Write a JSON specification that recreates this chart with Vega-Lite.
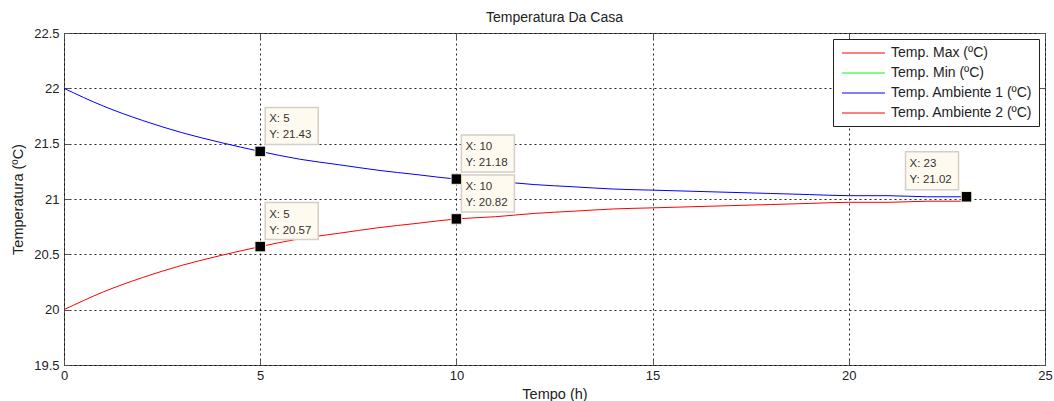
{
  "$schema": "https://vega.github.io/schema/vega-lite/v6.json",
  "autosize": "none",
  "width": 981,
  "height": 332,
  "padding": {"left": 64, "top": 33, "right": 9, "bottom": 36},
  "background": "white",
  "title": {"text": "Temperatura Da Casa", "font": "Liberation Sans", "fontSize": 14, "fontWeight": "normal", "color": "#222", "offset": 2},
  "config": {
    "view": {"stroke": "#555", "strokeWidth": 1},
    "font": "Liberation Sans",
    "axis": {
      "labelFont": "Liberation Sans", "labelFontSize": 13, "labelColor": "#222", "labelFlush": false,
      "titleFont": "Liberation Sans", "titleFontSize": 14.5, "titleFontWeight": "normal", "titleColor": "#222",
      "domain": false, "tickColor": "#555", "tickSize": -6, "tickWidth": 1,
      "gridColor": "#000", "gridDash": [2, 3], "gridOpacity": 0.85, "gridWidth": 1
    }
  },
  "datasets": {
    "curves": [
      {"t": 0, "temp": 22.00, "serie": "Temp. Ambiente 1 (ºC)"},
      {"t": 1, "temp": 21.84, "serie": "Temp. Ambiente 1 (ºC)"},
      {"t": 2, "temp": 21.71, "serie": "Temp. Ambiente 1 (ºC)"},
      {"t": 3, "temp": 21.60, "serie": "Temp. Ambiente 1 (ºC)"},
      {"t": 4, "temp": 21.51, "serie": "Temp. Ambiente 1 (ºC)"},
      {"t": 5, "temp": 21.43, "serie": "Temp. Ambiente 1 (ºC)"},
      {"t": 6, "temp": 21.36, "serie": "Temp. Ambiente 1 (ºC)"},
      {"t": 7, "temp": 21.31, "serie": "Temp. Ambiente 1 (ºC)"},
      {"t": 8, "temp": 21.26, "serie": "Temp. Ambiente 1 (ºC)"},
      {"t": 9, "temp": 21.22, "serie": "Temp. Ambiente 1 (ºC)"},
      {"t": 10, "temp": 21.18, "serie": "Temp. Ambiente 1 (ºC)"},
      {"t": 11, "temp": 21.16, "serie": "Temp. Ambiente 1 (ºC)"},
      {"t": 12, "temp": 21.13, "serie": "Temp. Ambiente 1 (ºC)"},
      {"t": 13, "temp": 21.11, "serie": "Temp. Ambiente 1 (ºC)"},
      {"t": 14, "temp": 21.09, "serie": "Temp. Ambiente 1 (ºC)"},
      {"t": 15, "temp": 21.08, "serie": "Temp. Ambiente 1 (ºC)"},
      {"t": 16, "temp": 21.07, "serie": "Temp. Ambiente 1 (ºC)"},
      {"t": 17, "temp": 21.06, "serie": "Temp. Ambiente 1 (ºC)"},
      {"t": 18, "temp": 21.05, "serie": "Temp. Ambiente 1 (ºC)"},
      {"t": 19, "temp": 21.04, "serie": "Temp. Ambiente 1 (ºC)"},
      {"t": 20, "temp": 21.03, "serie": "Temp. Ambiente 1 (ºC)"},
      {"t": 21, "temp": 21.03, "serie": "Temp. Ambiente 1 (ºC)"},
      {"t": 22, "temp": 21.02, "serie": "Temp. Ambiente 1 (ºC)"},
      {"t": 23, "temp": 21.02, "serie": "Temp. Ambiente 1 (ºC)"},
      {"t": 0, "temp": 20.00, "serie": "Temp. Ambiente 2 (ºC)"},
      {"t": 1, "temp": 20.16, "serie": "Temp. Ambiente 2 (ºC)"},
      {"t": 2, "temp": 20.29, "serie": "Temp. Ambiente 2 (ºC)"},
      {"t": 3, "temp": 20.40, "serie": "Temp. Ambiente 2 (ºC)"},
      {"t": 4, "temp": 20.49, "serie": "Temp. Ambiente 2 (ºC)"},
      {"t": 5, "temp": 20.57, "serie": "Temp. Ambiente 2 (ºC)"},
      {"t": 6, "temp": 20.64, "serie": "Temp. Ambiente 2 (ºC)"},
      {"t": 7, "temp": 20.69, "serie": "Temp. Ambiente 2 (ºC)"},
      {"t": 8, "temp": 20.74, "serie": "Temp. Ambiente 2 (ºC)"},
      {"t": 9, "temp": 20.78, "serie": "Temp. Ambiente 2 (ºC)"},
      {"t": 10, "temp": 20.82, "serie": "Temp. Ambiente 2 (ºC)"},
      {"t": 11, "temp": 20.84, "serie": "Temp. Ambiente 2 (ºC)"},
      {"t": 12, "temp": 20.87, "serie": "Temp. Ambiente 2 (ºC)"},
      {"t": 13, "temp": 20.89, "serie": "Temp. Ambiente 2 (ºC)"},
      {"t": 14, "temp": 20.91, "serie": "Temp. Ambiente 2 (ºC)"},
      {"t": 15, "temp": 20.92, "serie": "Temp. Ambiente 2 (ºC)"},
      {"t": 16, "temp": 20.93, "serie": "Temp. Ambiente 2 (ºC)"},
      {"t": 17, "temp": 20.94, "serie": "Temp. Ambiente 2 (ºC)"},
      {"t": 18, "temp": 20.95, "serie": "Temp. Ambiente 2 (ºC)"},
      {"t": 19, "temp": 20.96, "serie": "Temp. Ambiente 2 (ºC)"},
      {"t": 20, "temp": 20.97, "serie": "Temp. Ambiente 2 (ºC)"},
      {"t": 21, "temp": 20.97, "serie": "Temp. Ambiente 2 (ºC)"},
      {"t": 22, "temp": 20.98, "serie": "Temp. Ambiente 2 (ºC)"},
      {"t": 23, "temp": 20.98, "serie": "Temp. Ambiente 2 (ºC)"}
    ],
    "tips": [
      {"t": 5, "temp": 21.43},
      {"t": 10, "temp": 21.18},
      {"t": 5, "temp": 20.57},
      {"t": 10, "temp": 20.82},
      {"t": 23, "temp": 21.02}
    ]
  },
  "resolve": {"axis": {"x": "independent", "y": "independent"}},
  "layer": [
    {
      "data": {"name": "curves"},
      "mark": {"type": "line", "strokeWidth": 1, "interpolate": "monotone"},
      "encoding": {
        "x": {"field": "t", "type": "quantitative", "scale": {"domain": [0, 25], "nice": false},
              "axis": {"title": "Tempo (h)", "values": [0, 5, 10, 15, 20, 25], "grid": true, "labelPadding": 10, "titlePadding": 5}},
        "y": {"field": "temp", "type": "quantitative", "scale": {"domain": [19.5, 22.5], "nice": false, "zero": false},
              "axis": {"title": "Temperatura (ºC)", "values": [19.5, 20, 20.5, 21, 21.5, 22, 22.5], "format": ".1~f", "grid": true, "labelPadding": 11, "titlePadding": 8}},
        "color": {
          "field": "serie", "type": "nominal",
          "scale": {
            "domain": ["Temp. Max (ºC)", "Temp. Min (ºC)", "Temp. Ambiente 1 (ºC)", "Temp. Ambiente 2 (ºC)"],
            "range": ["#ff0000", "#00ff00", "#0000ff", "#ff0000"]
          },
          "legend": {
            "title": null, "orient": "top-right", "offset": 6,
            "fillColor": "white", "strokeColor": "#222", "padding": 6,
            "symbolType": "M-3.07,0H3.07", "symbolSize": 196, "symbolStrokeWidth": 1.2, "symbolOpacity": 1,
            "symbolOffset": 16.5,
            "labelFont": "Liberation Sans", "labelFontSize": 14, "labelColor": "#222",
            "labelOffset": 19.5, "rowPadding": 5
          }
        }
      }
    },
    {
      "data": {"name": "tips"},
      "transform": [{"filter": "datum.t < 20"}],
      "mark": {"type": "rect", "fill": "#fffaf0", "stroke": "#d4d0c8", "strokeWidth": 1.5,
               "xOffset": 5, "x2Offset": 58, "yOffset": -44, "y2Offset": -7},
      "encoding": {
        "x": {"field": "t", "type": "quantitative", "axis": null},
        "x2": {"field": "t"},
        "y": {"field": "temp", "type": "quantitative", "axis": null},
        "y2": {"field": "temp"}
      }
    },
    {
      "data": {"name": "tips"},
      "transform": [{"filter": "datum.t >= 20"}],
      "mark": {"type": "rect", "fill": "#fffaf0", "stroke": "#d4d0c8", "strokeWidth": 1.5,
               "xOffset": -61, "x2Offset": -8, "yOffset": -45, "y2Offset": -7},
      "encoding": {
        "x": {"field": "t", "type": "quantitative", "axis": null},
        "x2": {"field": "t"},
        "y": {"field": "temp", "type": "quantitative", "axis": null},
        "y2": {"field": "temp"}
      }
    },
    {
      "data": {"name": "tips"},
      "transform": [
        {"filter": "datum.t < 20"},
        {"calculate": "['X: ' + datum.t, 'Y: ' + format(datum.temp, '.2f')]", "as": "label"}
      ],
      "mark": {"type": "text", "align": "left", "baseline": "alphabetic", "dx": 9, "dy": -29,
               "font": "Liberation Sans", "fontSize": 11.5, "color": "#333", "lineHeight": 16},
      "encoding": {
        "x": {"field": "t", "type": "quantitative", "axis": null},
        "y": {"field": "temp", "type": "quantitative", "axis": null},
        "text": {"field": "label"}
      }
    },
    {
      "data": {"name": "tips"},
      "transform": [
        {"filter": "datum.t >= 20"},
        {"calculate": "['X: ' + datum.t, 'Y: ' + format(datum.temp, '.2f')]", "as": "label"}
      ],
      "mark": {"type": "text", "align": "left", "baseline": "alphabetic", "dx": -57, "dy": -30,
               "font": "Liberation Sans", "fontSize": 11.5, "color": "#333", "lineHeight": 16},
      "encoding": {
        "x": {"field": "t", "type": "quantitative", "axis": null},
        "y": {"field": "temp", "type": "quantitative", "axis": null},
        "text": {"field": "label"}
      }
    },
    {
      "data": {"name": "tips"},
      "mark": {"type": "point", "shape": "square", "size": 110, "filled": true, "fill": "#000", "stroke": "#f4eedc", "strokeWidth": 1, "opacity": 1},
      "encoding": {
        "x": {"field": "t", "type": "quantitative",
              "axis": {"orient": "top", "labels": false, "title": null, "grid": false, "values": [0, 5, 10, 15, 20, 25]}},
        "y": {"field": "temp", "type": "quantitative",
              "axis": {"orient": "right", "labels": false, "title": null, "grid": false, "values": [19.5, 20, 20.5, 21, 21.5, 22, 22.5]}}
      }
    }
  ]
}
